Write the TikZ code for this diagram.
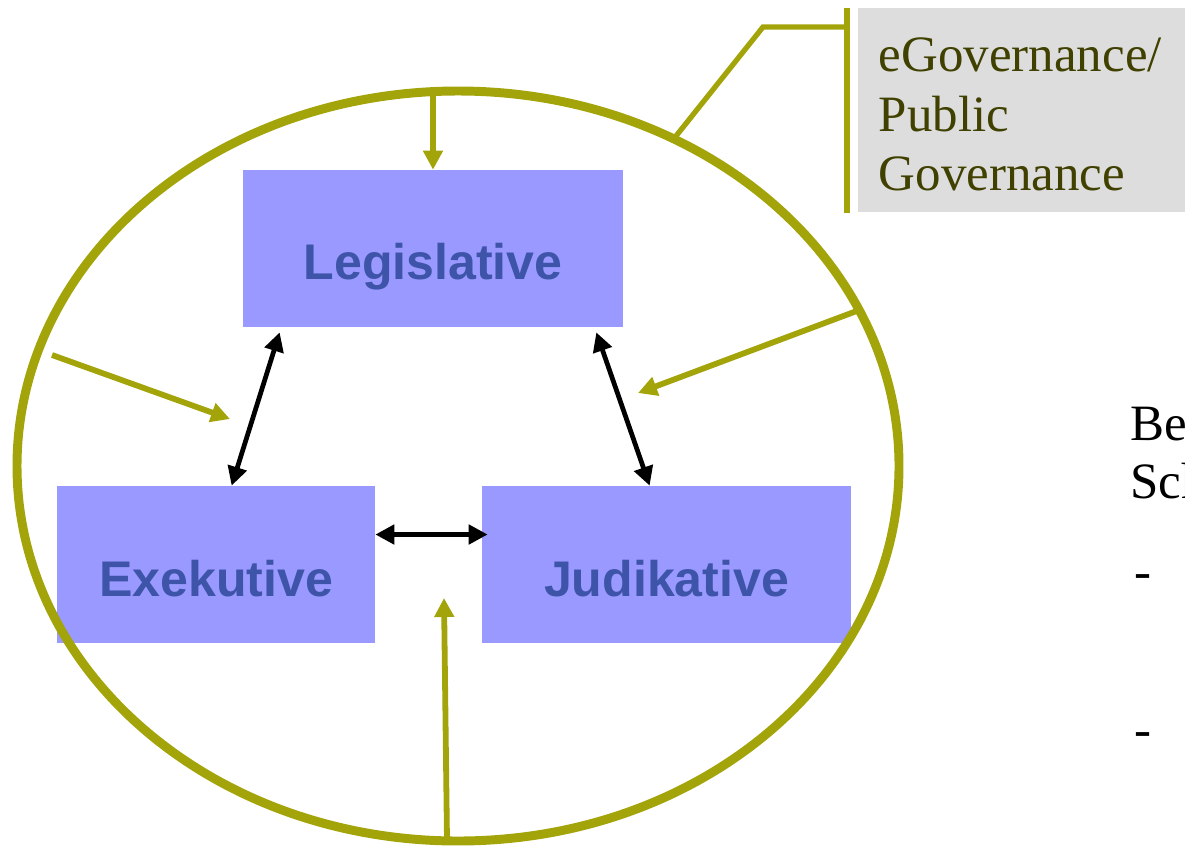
\documentclass[tikz,border=0pt]{standalone}
\usepackage{fontspec}
\setmainfont{Liberation Serif}
\setsansfont{Liberation Sans}
\usepackage{tikz}
\usetikzlibrary{arrows.meta}
\definecolor{oliv}{RGB}{163,163,10}
\definecolor{lila}{RGB}{153,153,255}
\definecolor{tinte}{RGB}{62,84,168}
\definecolor{grau}{RGB}{221,221,221}
\definecolor{dunkel}{RGB}{64,64,0}
\tikzset{gewalt/.style={fill=lila,text=tinte,font=\sffamily\bfseries\fontsize{28.5}{34}\selectfont,minimum height=3.14cm,text height=1.26cm,text depth=0pt,inner sep=0pt}}
\tikzset{wechsel/.style={black,line width=2.7pt,{Triangle[length=0.38cm,width=0.38cm]}-{Triangle[length=0.38cm,width=0.38cm]}}}
\tikzset{einfluss/.style={oliv,line width=3.3pt,-{Triangle[length=0.38cm,width=0.38cm]}}}
\tikzset{t/.style={font=\fontsize{29}{34}\selectfont}}

\begin{document}
\begin{tikzpicture}[x=0.02cm,y=-0.02cm]
  \useasboundingbox (0,0) rectangle (1185,845);
  \node[gewalt,minimum width=7.6cm] (leg) at (433,248.5) {Legislative};
  \node[gewalt,minimum width=6.36cm] (exe) at (216,564.5) {Exekutive};
  \node[gewalt,minimum width=7.38cm] (jud) at (666.5,564.5) {Judikative};
  \draw[oliv,line width=5.1pt] (458,466) ellipse [x radius=441,y radius=375];
  \node[fill=grau,text=dunkel,t,anchor=north west,minimum width=6.54cm,minimum height=4.08cm,
    text width=5.72cm,inner xsep=0.41cm,inner ysep=0pt,align=left] (gov) at (858,8)
    {\rule{0pt}{0.84cm}eGovernance/\\Public\\Governance};
  \draw[wechsel] ([xshift=3.5cm]exe.north west) -- ([xshift=0.74cm,yshift=-0.1cm]leg.south west);
  \draw[wechsel] ([xshift=3.36cm]jud.north west) -- ([xshift=-0.54cm,yshift=-0.1cm]leg.south east);
  \draw[wechsel] ([yshift=0.6cm]exe.east) -- ([xshift=0.12cm,yshift=0.6cm]jud.west);
  \coordinate (oben) at (433,94);
  \coordinate (links) at (52,355);
  \coordinate (links2) at (230,419);
  \coordinate (rechts) at (862,309);
  \coordinate (rechts2) at (638,393);
  \coordinate (unten) at (447,841);
  \coordinate (unten2) at (444,598);
  \draw[einfluss] (oben) -- (leg.north);
  \draw[einfluss] (links) -- (links2);
  \draw[einfluss] (rechts) -- (rechts2);
  \draw[einfluss] (unten) -- (unten2);
  \coordinate (knick) at (763,27);
  \coordinate (rand) at (676,136);
  \draw[oliv,line width=3.4pt] ([xshift=-0.22cm]gov.north west) -- ([xshift=-0.22cm]gov.south west);
  \draw[oliv,line width=3pt] ([xshift=-0.22cm,yshift=-0.38cm]gov.north west) -- (knick) -- (rand);
  \node[t,anchor=base west,inner sep=0pt] (be) at (1130,440) {Be};
  \node[t,anchor=base west,inner sep=0pt] (sch) at (1130,498) {Sch};
  \node[t,anchor=base west,inner sep=0pt] (st1) at (1134,588) {-};
  \node[t,anchor=base west,inner sep=0pt] (st2) at (1134,746) {-};
\end{tikzpicture}
\end{document}
